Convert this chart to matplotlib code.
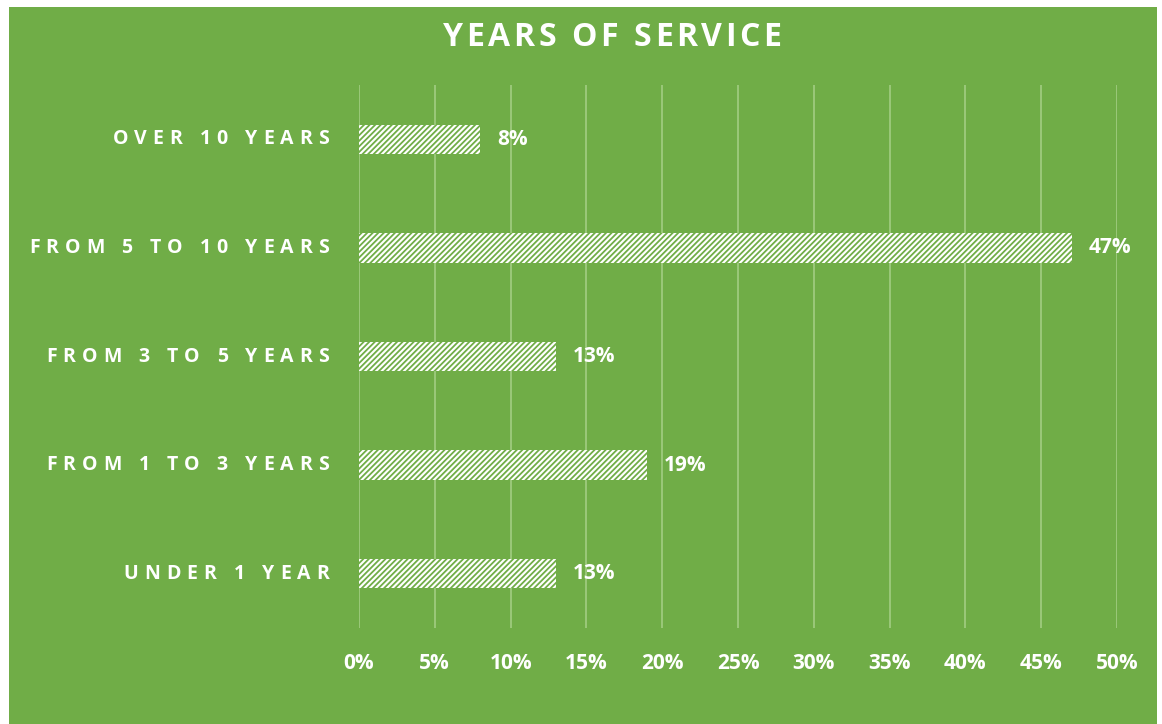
import matplotlib
matplotlib.use("Agg")
import matplotlib.pyplot as plt
from matplotlib.patches import Rectangle
from matplotlib.transforms import IdentityTransform, blended_transform_factory
from matplotlib.font_manager import FontProperties, findfont
from matplotlib.ft2font import LOAD_NO_HINTING
from matplotlib import font_manager

# --- data ---
categories = ["UNDER 1 YEAR", "FROM 1 TO 3 YEARS", "FROM 3 TO 5 YEARS",
              "FROM 5 TO 10 YEARS", "OVER 10 YEARS"]
shares = [13, 19, 13, 47, 8]
xticks = [0, 5, 10, 15, 20, 25, 30, 35, 40, 45, 50]

GREEN = "#70AD47"
GRID = "#A6CF88"
FONT = "Open Sans"

plt.rcParams["hatch.linewidth"] = 1.3

W, H = 1162, 724
fig = plt.figure(figsize=(W / 100, H / 100), dpi=100)
fig.patch.set_facecolor("white")
fig.patches.append(Rectangle((9 / W, 0), 1148 / W, 717 / H, transform=fig.transFigure,
                             facecolor=GREEN, edgecolor="none", zorder=-5))

ax = fig.add_axes([359 / W, (H - 628) / H, (1117 - 359) / W, (628 - 85) / H])
ax.set_facecolor("none")
ax.set_zorder(1)

y = range(len(categories))
ax.barh(y, shares, height=0.27, color="white", edgecolor=GREEN, linewidth=0,
        hatch="//////", zorder=3)

ax.set_xlim(0, 50)
ax.set_ylim(-0.5, len(categories) - 0.5)
ax.set_xticks(xticks)
ax.set_xticklabels([f"{t}%" for t in xticks], fontfamily=FONT, fontweight="bold",
                   fontsize=15, color="white")
ax.set_yticks([])
ax.tick_params(axis="x", length=0, pad=18)
ax.grid(axis="x", color=GRID, linewidth=1.1, zorder=1)
for s in ax.spines.values():
    s.set_visible(False)

# value labels
for yi, v in zip(y, shares):
    ax.annotate(f"{v}%", (v, yi), xytext=(12, 0), textcoords="offset points",
                va="center", ha="left", fontfamily=FONT, fontweight="bold",
                fontsize=15, color="white", zorder=4)


def tracked_text(s, x_right, y_val, trans_y, size, track_px, x_center=None):
    """Draw text with extra letter spacing, right-aligned (or centred) in pixels."""
    fp = FontProperties(family=FONT, weight="bold", size=size)
    font = font_manager.get_font(findfont(fp))
    font.set_size(size, 100)
    pens = []
    pen = 0.0
    for c in s:
        g = font.load_char(ord(c), flags=LOAD_NO_HINTING)
        pens.append(pen)
        pen += g.linearHoriAdvance / 65536 + track_px
    total = pen - track_px
    x0 = x_center - total / 2 if x_center is not None else x_right - total
    tr = blended_transform_factory(IdentityTransform(), trans_y)
    for c, p in zip(s, pens):
        if c == " ":
            continue
        fig.text(x0 + p, y_val, c, transform=tr, fontproperties=fp,
                 color="white", ha="left", va="center", zorder=5)


for yi, cat in zip(y, categories):
    tracked_text(cat, 329, yi, ax.transData, 14, 6)

tracked_text("YEARS OF SERVICE", None, (H - 38) / H, fig.transFigure, 23, 3.6,
             x_center=612)

fig.savefig("out.png", dpi=100, facecolor=fig.get_facecolor())
